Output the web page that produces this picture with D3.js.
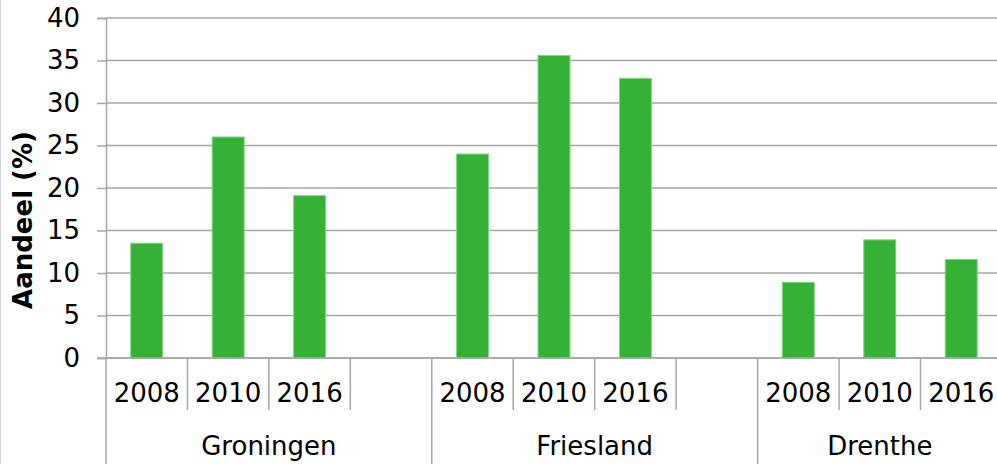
<!DOCTYPE html>
<html>
<head>
<meta charset="utf-8">
<script src="https://cdn.jsdelivr.net/npm/d3@7"></script>
<style>
  body { margin: 0; background: #fff; }
  svg { display: block; font-family: 'DejaVu Sans', Verdana, sans-serif; }
</style>
</head>
<body>
<div id="chart"></div>
<script>
// data
const groups = ['Groningen', 'Friesland', 'Drenthe'];
const years = ['2008', '2010', '2016'];
const groningen = [13.5, 26.0, 19.1];
const friesland = [24.0, 35.6, 32.9];
const drenthe = [8.9, 13.9, 11.6];
const yTicks = [0, 5, 10, 15, 20, 25, 30, 35, 40];
const yLabel = 'Aandeel (%)';

const values = [groningen, friesland, drenthe];

const w = 997;
const h = 464;
const left = 106;
const slotW = 81.45;
const y0 = 358;
const yTop = 18;
const barWidth = 32;
const grid = '#a6a6a6';

// every group gets an empty slot after its years, except the last one
const slots = [];
const bars = [];
groups.forEach((g, gi) => {
  years.forEach((yr, yi) => {
    slots.push(g + '|' + yr);
    bars.push({ key: g + '|' + yr, group: g, year: yr, value: values[gi][yi] });
  });
  if (gi < groups.length - 1) slots.push(g + '|');
});

const scaleX = d3
  .scaleBand()
  .domain(slots)
  .range([left, left + slots.length * slotW])
  .padding(0);

const scaleY = d3.scaleLinear().domain([0, 40]).range([y0, yTop]);

const svg = d3.select('#chart').append('svg').attr('width', w).attr('height', h);

// faint outer border on the left
svg.append('line')
  .attr('x1', 0.5).attr('x2', 0.5).attr('y1', 0).attr('y2', h)
  .attr('stroke', '#d0d0d0').attr('stroke-width', 1);

// gridlines
svg.append('g')
  .selectAll('line')
  .data(yTicks)
  .enter()
  .append('line')
  .attr('x1', left)
  .attr('x2', w)
  .attr('y1', (d) => scaleY(d))
  .attr('y2', (d) => scaleY(d))
  .attr('stroke', grid)
  .attr('stroke-width', 1.5);

// y axis
const axisY = d3.axisLeft(scaleY).tickValues(yTicks).tickSize(9).tickPadding(17);
const gy = svg.append('g').attr('transform', `translate(${left}, 0)`).call(axisY);
gy.select('.domain').attr('stroke', grid).attr('stroke-width', 1.5);
gy.selectAll('.tick line').attr('stroke', grid).attr('stroke-width', 1.5);
gy.selectAll('.tick text')
  .attr('font-size', 26)
  .attr('font-family', "'DejaVu Sans', Verdana, sans-serif")
  .attr('fill', '#000');

svg.append('text')
  .attr('transform', `translate(32, 220) rotate(-90)`)
  .attr('text-anchor', 'middle')
  .attr('font-size', 26)
  .attr('font-weight', 'bold')
  .attr('fill', '#000')
  .text(yLabel);

// bars
svg.append('g')
  .selectAll('rect')
  .data(bars)
  .enter()
  .append('rect')
  .attr('x', (d) => scaleX(d.key) + scaleX.bandwidth() / 2 - barWidth / 2)
  .attr('width', barWidth)
  .attr('y', (d) => scaleY(d.value))
  .attr('height', (d) => scaleY(0) - scaleY(d.value))
  .attr('fill', '#35b235')
  .attr('stroke', '#86d486')
  .attr('stroke-width', 1);

// x axis line
svg.append('line')
  .attr('x1', left - 9).attr('x2', w)
  .attr('y1', y0).attr('y2', y0)
  .attr('stroke', grid).attr('stroke-width', 1.5);

// slot separators (short) and group separators (long)
const inner = svg.append('g');
slots.forEach((s, i) => {
  const x = scaleX(s);
  const isGroupStart = i === 0 || s.split('|')[0] !== slots[i - 1].split('|')[0];
  inner.append('line')
    .attr('x1', x).attr('x2', x)
    .attr('y1', y0).attr('y2', isGroupStart ? h : 410)
    .attr('stroke', grid).attr('stroke-width', 1.5);
});

// year labels
svg.append('g')
  .selectAll('text')
  .data(bars)
  .enter()
  .append('text')
  .attr('x', (d) => scaleX(d.key) + scaleX.bandwidth() / 2)
  .attr('y', 402)
  .attr('text-anchor', 'middle')
  .attr('font-size', 26)
  .attr('fill', '#000')
  .text((d) => d.year);

// group labels, centred on all slots of the group
svg.append('g')
  .selectAll('text')
  .data(groups)
  .enter()
  .append('text')
  .attr('x', (g) => {
    const own = slots.filter((s) => s.split('|')[0] === g);
    return (scaleX(own[0]) + scaleX(own[own.length - 1]) + scaleX.bandwidth()) / 2;
  })
  .attr('y', 455)
  .attr('text-anchor', 'middle')
  .attr('font-size', 26)
  .attr('fill', '#000')
  .text((g) => g);
</script>
</body>
</html>
